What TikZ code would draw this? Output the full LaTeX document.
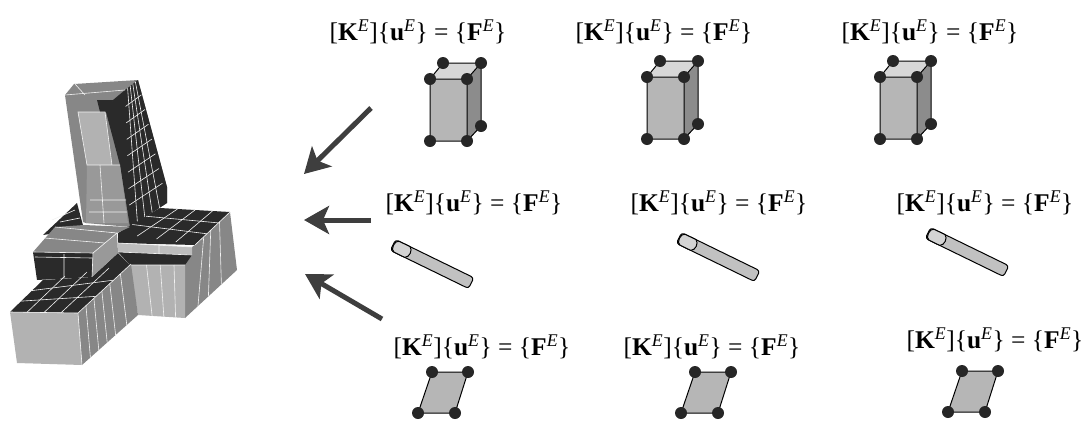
\documentclass[tikz,border=0pt]{standalone}
\usepackage{fontspec}
\setmainfont{Liberation Serif}
\usetikzlibrary{arrows.meta,calc}
\definecolor{facelight}{RGB}{178,178,178}
\definecolor{facemid}{RGB}{135,135,135}
\definecolor{facedark}{RGB}{42,42,42}
\definecolor{elemfill}{RGB}{182,182,182}
\definecolor{elemside}{RGB}{140,140,140}
\definecolor{elemtop}{RGB}{215,215,215}
\definecolor{arrowgray}{RGB}{62,62,62}
\newcommand{\stiffeq}{[\textbf{K}\textsuperscript{\textit{E}}]\{\textbf{u}\textsuperscript{\textit{E}}\} = \{\textbf{F}\textsuperscript{\textit{E}}\}}
\newcommand{\meshlines}[5]{\foreach \t in {#5}{\draw[mesh] ($(#1)!\t!(#2)$) -- ($(#3)!\t!(#4)$);}}
\begin{document}
\begin{tikzpicture}[x=1pt,y=-1pt,
  eq/.style={font=\fontsize{25.5}{28}\selectfont, inner sep=0pt},
  mesh/.style={draw=white!90!gray, line width=0.6pt},
  edge/.style={draw=black, line width=1pt, line join=round},
  joint/.style={circle, fill=black!85, inner sep=0pt, minimum size=12pt},
  ar/.style={-{Stealth[length=25pt,width=28pt,inset=6pt]}, line width=5pt, draw=arrowgray, fill=arrowgray}]
\useasboundingbox (0,0) rectangle (1090,421);
% finite element model
\coordinate (ta) at (78,112);  \coordinate (tb) at (105,112);
\coordinate (tc) at (128,223); \coordinate (td) at (86,223);
\coordinate (te) at (125,90);  \coordinate (tf) at (138,80);
\coordinate (tg) at (167,203); \coordinate (th) at (130,227);
\fill[facemid] (65,95) -- (74,84) -- (tf) -- (167,187) -- (tg) -- (th) -- (td) -- (83,222) -- cycle;
\fill[facedark] (te) -- (tf) -- (167,187) -- (tg) -- (th) -- (120,165) -- (106,112) -- (113,100) -- cycle;
\fill[facelight] (ta) -- (tb) -- (112,165) -- (87,165) -- cycle;
\fill[facemid!85!white] (87,165) -- (120,165) -- (tc) -- (td) -- cycle;
\fill[facedark] (97,100) -- (113,100) -- (110,112) -- (100,112) -- cycle;
\meshlines{te}{tf}{th}{tg}{0.2,0.4,0.6,0.8}
\meshlines{tf}{tg}{te}{th}{0.12,0.24,0.36,0.48,0.6,0.72,0.84}
\draw[mesh] (65,95) -- (125,90) (ta) -- (tb) -- (112,165) -- (87,165) -- cycle (87,165) -- (120,165);
\draw[mesh] (90,200) -- (126,200) (89,212) -- (127,212) (100,165) -- (104,223) (75,84) -- (85,95);
% right block
\coordinate (ra) at (118,233); \coordinate (rb) at (160,208);
\coordinate (rc) at (230,212); \coordinate (rd) at (195,245);
\coordinate (re) at (237,270); \coordinate (rf) at (185,318);
\coordinate (rg) at (130,265); \coordinate (rh) at (185,265);
\coordinate (ri) at (138,315);
\fill[facedark] (ra) -- (rb) -- (rc) -- (rd) -- (118,243) -- cycle;
\fill[facemid] (rd) -- (rc) -- (re) -- (rf) -- (rh) -- (192,247) -- cycle;
\fill[facelight!85!white] (118,243) -- (192,247) -- (192,255) -- (118,252) -- cycle;
\fill[facedark] (118,252) -- (192,255) -- (rh) -- (rg) -- cycle;
\fill[facelight] (rg) -- (rh) -- (rf) -- (ri) -- cycle;
\meshlines{rb}{rc}{ra}{rd}{0.25,0.5,0.75}
\meshlines{rb}{ra}{rc}{rd}{0.33,0.66}
\meshlines{rd}{rc}{rf}{re}{0.25,0.45,0.7}
\meshlines{rg}{rh}{ri}{rf}{0.3,0.55,0.8}
\draw[mesh] (118,243) -- (192,247) (118,252) -- (192,255) (rg) -- (rh) (rd) -- (rc) (159,244) -- (159,254);
% centre block
\coordinate (ca) at (33,252); \coordinate (cb) at (55,227);
\coordinate (cc) at (117,233); \coordinate (cd) at (93,253);
\coordinate (ce) at (118,253); \coordinate (cf) at (92,277);
\coordinate (cg) at (37,280);
\fill[facedark] (43,235) -- (77,203) -- (84,229) -- cycle;
\fill[facemid] (cb) -- (84,225) -- (th) -- (cc) -- cycle;
\fill[facedark] (cf) -- (ce) -- (rg) -- (110,283) -- cycle;
\fill[facemid] (ca) -- (cb) -- (cc) -- (cd) -- cycle;
\fill[facedark] (ca) -- (cd) -- (cf) -- (cg) -- cycle;
\fill[facemid!85!white] (cd) -- (cc) -- (ce) -- (cf) -- cycle;
\draw[mesh] (ca) -- (cd) -- (cc) -- (cb) (cd) -- (cf) (35,257) -- (92,258) (64,254) -- (64,278) (44,238) -- (105,243);
\draw[mesh] (52,220) -- (75,210) (60,222) -- (80,218);
% front block
\coordinate (fa) at (10,312); \coordinate (fb) at (43,280);
\coordinate (fc) at (131,264); \coordinate (fd) at (78,313);
\coordinate (fe) at (82,365); \coordinate (ff) at (17,363);
\coordinate (fg) at (138,315);
\fill[facedark] (fa) -- (fb) -- (cf) -- (fc) -- (fd) -- cycle;
\fill[facemid] (fd) -- (fc) -- (fg) -- (fe) -- cycle;
\fill[facelight] (fa) -- (fd) -- (fe) -- (ff) -- cycle;
\meshlines{fa}{fd}{fb}{fc}{0.25,0.5,0.75}
\meshlines{fb}{fa}{fc}{fd}{0.33,0.66}
\meshlines{fd}{fc}{fe}{fg}{0.15,0.3,0.45,0.6,0.8}
\draw[mesh] (fa) -- (fd) -- (fc) (fd) -- (fe);
% arrows
\coordinate (arA) at (371,108); \coordinate (tipA) at (304,174);
\coordinate (arB) at (371,220); \coordinate (tipB) at (304,220);
\coordinate (arC) at (382,319); \coordinate (tipC) at (305,274);
\draw[ar] (arA) -- (tipA);
\draw[ar] (arB) -- (tipB);
\draw[ar] (arC) -- (tipC);
% equations
\foreach \n/\ex/\ey in {1/418/32,2/664/32,3/930/32,4/474/203,5/719/203,6/985/203,7/482/347,8/712/347,9/995/340}
  \node[eq] (eq\n) at (\ex,\ey) {\stiffeq};
% brick elements
\foreach \bx/\by in {430/79,647/77,880/77}{
\begin{scope}[shift={(\bx,\by)}]
\fill[elemtop] (0,0) -- (13,-16) -- (51,-16) -- (37,0) -- cycle;
\fill[elemside] (37,0) -- (51,-16) -- (51,47) -- (37,62) -- cycle;
\fill[elemfill] (0,0) rectangle (37,62);
\draw[edge] (0,0) -- (13,-16) -- (51,-16) -- (37,0) -- cycle (51,-16) -- (51,47) -- (37,62) -- (0,62) -- (0,0) (37,0) -- (37,62);
\foreach \jx/\jy in {0/0,37/0,13/-16,51/-16,0/62,37/62,51/47}
  \node[joint] at (\jx,\jy) {};
\end{scope}}
% rod elements
\foreach \rx/\ry in {393/245,679/238,928/233}{
\begin{scope}[shift={(\rx,\ry)},rotate=-26]
\draw[edge, fill=elemfill!85!white, rounded corners=3pt] (0,-6) rectangle (87,6);
\draw[edge, fill=elemfill!60!white] (4,-6) -- (16,-6) to[out=-26,in=26] (16,6) -- (4,6) to[out=180,in=180] cycle;
\end{scope}}
% plate elements
\foreach \qx/\qy in {432/372,695/372,962/371}{
\begin{scope}[shift={(\qx,\qy)}]
\draw[edge, fill=elemfill] (0,0) -- (36,0) -- (23,41) -- (-14,41) -- cycle;
\foreach \jx/\jy in {0/0,36/0,23/41,-14/41}
  \node[joint] at (\jx,\jy) {};
\end{scope}}
\end{tikzpicture}
\end{document}
